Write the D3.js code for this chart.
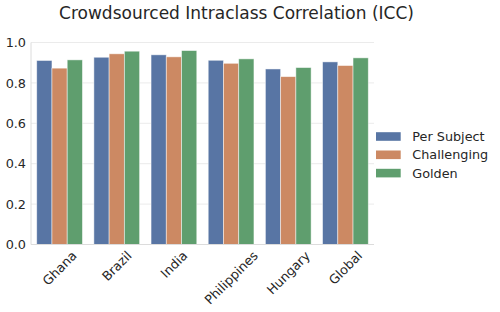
<!DOCTYPE html>
<html>
<head>
<meta charset="utf-8">
<script src="https://cdn.jsdelivr.net/npm/d3@7"></script>
<style>
  html, body { margin: 0; padding: 0; background: #fff; }
  svg { display: block; font-family: "DejaVu Sans", sans-serif; }
</style>
</head>
<body>
<svg id="chart" width="500" height="312"></svg>
<script>
const categories = ['Ghana', 'Brazil', 'India', 'Philippines', 'Hungary', 'Global'];
const seriesNames = ['Per Subject', 'Challenging', 'Golden'];
const perSubject = [0.911, 0.927, 0.939, 0.912, 0.869, 0.904];
const challenging = [0.873, 0.944, 0.929, 0.897, 0.831, 0.886];
const golden = [0.914, 0.957, 0.960, 0.919, 0.876, 0.924];
const yTicks = [0.0, 0.2, 0.4, 0.6, 0.8, 1.0];
const colors = ['#5875a4', '#cc8963', '#5f9e6e'];
const title = 'Crowdsourced Intraclass Correlation (ICC)';

const seriesValues = [perSubject, challenging, golden];
const rows = categories.map((c, i) => ({
    category: c,
    values: seriesNames.map((s, j) => ({ series: s, value: seriesValues[j][i] })),
}));

const plot = { left: 31, right: 374, top: 42.5, bottom: 244.5 };
const svg = d3.select('#chart');

const x = d3.scaleBand()
    .domain(categories)
    .range([plot.left, plot.right])
    .paddingInner(0.2)
    .paddingOuter(0.1);

const xInner = d3.scaleBand()
    .domain(seriesNames)
    .range([0, x.bandwidth()]);

const y = d3.scaleLinear()
    .domain([0, 1])
    .range([plot.bottom, plot.top]);

const color = d3.scaleOrdinal().domain(seriesNames).range(colors);

// grid
svg.append('g')
    .selectAll('line')
    .data(yTicks)
    .enter()
    .append('line')
    .attr('x1', plot.left)
    .attr('x2', plot.right)
    .attr('y1', d => y(d))
    .attr('y2', d => y(d))
    .attr('stroke', '#ebebeb')
    .attr('stroke-width', 1);

// bars
svg.append('g')
    .selectAll('g')
    .data(rows)
    .enter()
    .append('g')
    .attr('transform', d => `translate(${x(d.category)},0)`)
    .selectAll('rect')
    .data(d => d.values)
    .enter()
    .append('rect')
    .attr('x', d => xInner(d.series))
    .attr('width', xInner.bandwidth())
    .attr('y', d => y(d.value))
    .attr('height', d => y(0) - y(d.value))
    .attr('fill', d => color(d.series))
    .attr('stroke', '#ffffff')
    .attr('stroke-opacity', 0.6)
    .attr('stroke-width', 0.8);

// spines
svg.append('line')
    .attr('x1', plot.left).attr('x2', plot.left)
    .attr('y1', plot.top).attr('y2', plot.bottom)
    .attr('stroke', '#dcdcdc').attr('stroke-width', 1);
svg.append('line')
    .attr('x1', plot.left).attr('x2', plot.right)
    .attr('y1', plot.bottom).attr('y2', plot.bottom)
    .attr('stroke', '#dcdcdc').attr('stroke-width', 1);

// y tick labels
svg.append('g')
    .selectAll('text')
    .data(yTicks)
    .enter()
    .append('text')
    .attr('x', plot.left - 5)
    .attr('y', d => y(d))
    .attr('dy', '0.36em')
    .attr('text-anchor', 'end')
    .attr('font-size', 12.8)
    .attr('fill', '#262626')
    .text(d => d.toFixed(1));

// x tick labels, rotated 45deg, bbox centred under the tick
const fontSize = 12.8;
const xLabels = svg.append('g')
    .selectAll('text')
    .data(categories)
    .enter()
    .append('text')
    .attr('text-anchor', 'middle')
    .attr('dy', '0.36em')
    .attr('font-size', fontSize)
    .attr('fill', '#262626')
    .text(d => d);

xLabels.each(function (d) {
    const w = this.getComputedTextLength();
    const h = (w + fontSize * 0.95) * Math.SQRT1_2;
    const cx = x(d) + x.bandwidth() / 2;
    const cy = plot.bottom + 4.5 + h / 2;
    d3.select(this)
        .attr('x', cx)
        .attr('y', cy)
        .attr('transform', `rotate(-45,${cx},${cy})`);
});

// title
svg.append('text')
    .attr('x', 236.5)
    .attr('y', 18.5)
    .attr('text-anchor', 'middle')
    .attr('font-size', 17)
    .attr('fill', '#262626')
    .text(title);

// legend
const legend = svg.append('g')
    .selectAll('g')
    .data(seriesNames)
    .enter()
    .append('g')
    .attr('transform', (d, i) => `translate(376,${136.5 + i * 18.3})`);

legend.append('rect')
    .attr('x', 0)
    .attr('y', -4.3)
    .attr('width', 24.7)
    .attr('height', 8.6)
    .attr('fill', d => color(d));

legend.append('text')
    .attr('x', 36.3)
    .attr('dy', '0.36em')
    .attr('font-size', 12.8)
    .attr('fill', '#262626')
    .text(d => d);
</script>
</body>
</html>
